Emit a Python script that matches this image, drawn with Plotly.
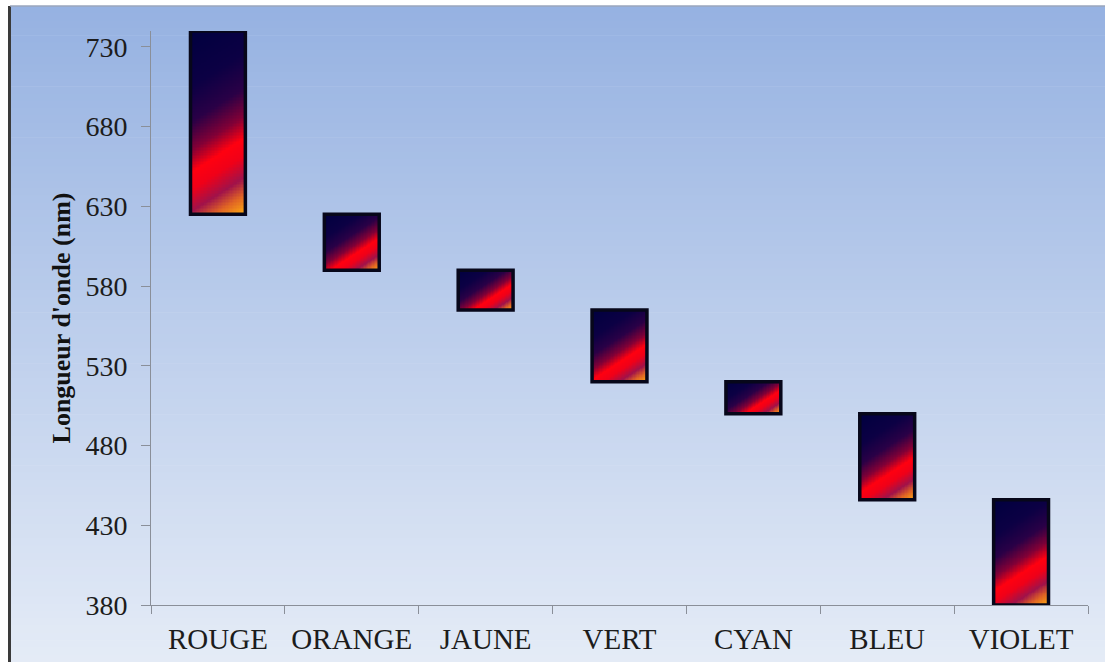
import numpy as np
import plotly.graph_objects as go

# Visible-light bands and their wavelength limits (nm)
categories = ["ROUGE", "ORANGE", "JAUNE", "VERT", "CYAN", "BLEU", "VIOLET"]
wl_min = [625, 590, 565, 520, 500, 446, 380]
wl_max = [740, 625, 590, 565, 520, 500, 446]
y_ticks = [380, 430, 480, 530, 580, 630, 680, 730]

W, H = 1105, 662
X_DOM = [151 / W, 1088 / W]
Y_DOM = [1 - 605 / H, 1 - 31 / H]
Y_RANGE = [380, 740]
BAR_W = 0.41

px_per_x = (X_DOM[1] - X_DOM[0]) * W / 7.0
px_per_y = (Y_DOM[1] - Y_DOM[0]) * H / (Y_RANGE[1] - Y_RANGE[0])

fire = [
    [0.00, "#00003f"],
    [0.26, "#0c0044"],
    [0.42, "#2a0046"],
    [0.55, "#820036"],
    [0.65, "#ff0010"],
    [0.73, "#f00018"],
    [0.83, "#a0124a"],
    [0.91, "#e06424"],
    [1.00, "#ffae10"],
]

fig = go.Figure()

# Diagonal gradient fill for every bar, laid out in data coordinates
for i, (lo, hi) in enumerate(zip(wl_min, wl_max)):
    nx, ny = 40, 120
    xe = np.linspace(i - BAR_W / 2, i + BAR_W / 2, nx + 1)
    ye = np.linspace(lo, hi, ny + 1)
    u = (np.arange(nx) + 0.5) / nx                # 0 left -> 1 right
    v = 1 - (np.arange(ny) + 0.5) / ny            # 0 top -> 1 bottom (rows go bottom->top)
    k = 0.65 * (BAR_W * px_per_x) / ((hi - lo) * px_per_y)
    z = (v[:, None] + k * u[None, :]) / (1 + k)
    fig.add_trace(go.Heatmap(
        x=xe, y=ye, z=z, colorscale=fire, zmin=0, zmax=1,
        showscale=False, hoverinfo="skip", zsmooth=False,
    ))

# Floating bars (outline) from min to max wavelength
fig.add_trace(go.Bar(
    x=list(range(len(categories))),
    y=[h - l for l, h in zip(wl_min, wl_max)],
    base=wl_min,
    width=BAR_W,
    marker=dict(color="rgba(0,0,0,0)", line=dict(color="#07071a", width=3.5)),
    hovertext=categories,
    showlegend=False,
))

# Background: vertical blue gradient inside a thin frame
shapes = []
top_c = np.array([150, 178, 226])
bot_c = np.array([229, 236, 247])
n_strips = 90
y_top = 1 - 6 / H
for s in range(n_strips):
    f0 = s / n_strips
    f1 = (s + 1) / n_strips
    c = top_c + (bot_c - top_c) * (f0 + f1) / 2
    shapes.append(dict(
        type="rect", xref="paper", yref="paper", layer="below",
        x0=10 / W, x1=1, y0=y_top - f1 * y_top - 0.001, y1=y_top - f0 * y_top,
        fillcolor="rgb(%d,%d,%d)" % tuple(c.astype(int)), line=dict(width=0),
    ))
shapes.append(dict(type="rect", xref="paper", yref="paper", layer="below",
                   x0=8 / W, x1=11 / W, y0=0, y1=y_top,
                   fillcolor="#3a3a3a", line=dict(width=0)))
shapes.append(dict(type="line", xref="paper", yref="paper", layer="below",
                   x0=10 / W, x1=1, y0=y_top, y1=y_top,
                   line=dict(color="#9aa6bc", width=1.5)))

serif = "Liberation Serif, Times New Roman, serif"
axis_grey = "#8a8f99"

fig.update_layout(
    width=W, height=H,
    margin=dict(l=0, r=0, t=0, b=0, autoexpand=False),
    paper_bgcolor="white",
    plot_bgcolor="rgba(0,0,0,0)",
    shapes=shapes,
    showlegend=False,
    barmode="overlay",
    xaxis=dict(
        domain=X_DOM, range=[-0.5, 6.5], automargin=False,
        tickmode="array", tickvals=list(range(len(categories))), ticktext=categories,
        ticks="", showline=True, linecolor=axis_grey, linewidth=1,
        showgrid=False, zeroline=False,
        tickfont=dict(family=serif, size=29, color="#1c1c1c"),
        ticklabelstandoff=8,
        minor=dict(ticks="outside", tick0=0.5, dtick=1, ticklen=8,
                   tickcolor=axis_grey, showgrid=False),
    ),
    yaxis=dict(
        domain=Y_DOM, range=Y_RANGE, automargin=False,
        tickmode="array", tickvals=y_ticks,
        ticks="outside", ticklen=9, tickcolor=axis_grey,
        showline=True, linecolor=axis_grey, linewidth=1,
        showgrid=False, zeroline=False,
        tickfont=dict(family=serif, size=28, color="#1c1c1c"),
        ticklabelstandoff=8,
        title=dict(text="<b>Longueur d'onde (nm)</b>",
                   font=dict(family=serif, size=26, color="#111111"),
                   standoff=7),
    ),
)

fig.write_html("out.html")
